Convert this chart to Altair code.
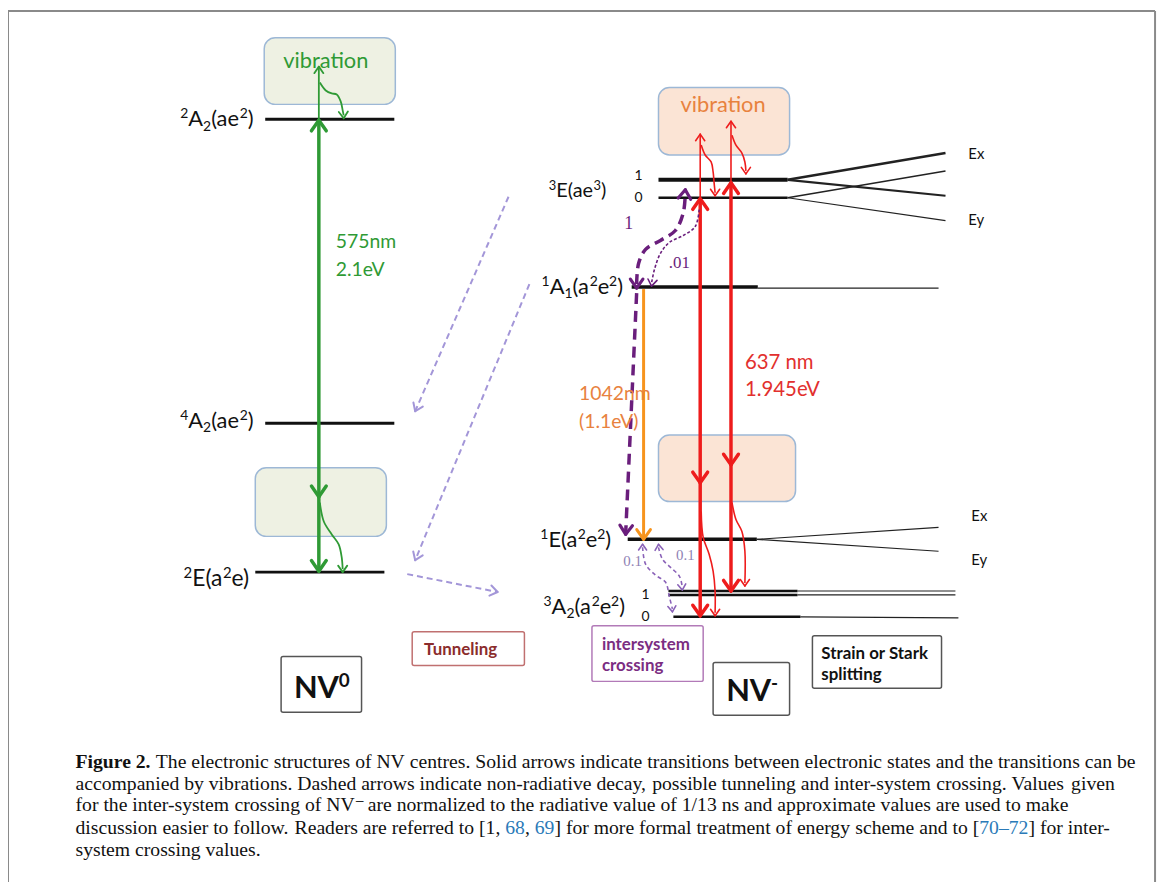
import math
import altair as alt
import pandas as pd

# ------------------------------------------------------------------ data
# energy levels: name, x-start, x-end, y (diagram pixel space)
level_names = ["2A2", "4A2", "2E", "3E_1", "3E_0", "1A1", "1E", "3A2_1a", "3A2_1b", "3A2_0"]
level_x1 = [267, 267, 257, 663, 663, 636, 632, 673, 673, 678]
level_x2 = [397, 397, 387, 793, 793, 763, 762, 803, 803, 806]
level_y = [117, 423, 573, 178, 196, 286, 540, 592, 596, 618]
level_w = [3, 3, 3, 4, 2.5, 3.5, 3.5, 2.5, 2.5, 2.5]

# strain / Stark splitting fan-out lines: x1, y1, x2, y2, width
split_lines = [
    (793, 178, 952, 151, 2.5), (793, 178, 952, 194, 2.2),
    (793, 196, 952, 169, 1.6), (793, 196, 952, 219, 1.2),
    (763, 287, 945, 287, 1.2),
    (762, 540, 945, 528, 1.2), (762, 540, 945, 552, 1.2),
    (803, 592, 962, 592, 1.2), (803, 596, 962, 596, 1.2),
    (806, 618, 965, 619, 1.2),
]

# straight solid transitions: x1, y1, x2, y2, colour key, width
solid_transitions = [
    (321, 118, 321, 572, "green", 3.5), (321, 117, 321, 64, "green", 1.8),
    (705, 197, 705, 617, "red", 3.5), (736, 181, 736, 592, "red", 3.5),
    (705, 196, 705, 132, "red", 1.6), (736, 180, 736, 119, "red", 1.6),
    (648, 288, 648, 540, "orange", 3),
]

# tunneling (light purple dashed) arrows: x1, y1, x2, y2
tunnel_arrows = [(512, 195, 418, 411), (533, 283, 418, 561), (410, 575, 501, 593)]
# thick intersystem-crossing dashed straight
isc_thick_straight = [(641, 292, 630, 533)]

# curved paths (points), by style
curve_isc_thick = [[(641, 283), (643, 262), (650, 248), (665, 239), (680, 229), (688, 211), (690, 191)]]
curve_isc_thin = [[(704, 208), (700, 225), (688, 234), (674, 241), (665, 252), (659, 268), (656, 282)]]
curve_isc_small = [
    [(647, 548), (650, 565), (660, 576), (670, 583), (674, 598), (677, 610)],
    [(663, 548), (667, 560), (676, 569), (684, 577), (687, 588)],
]
curve_green = [
    [(322, 80), (328, 88), (334, 91), (339, 92), (343, 99), (345, 108), (346, 113)],
    [(322, 503), (326, 522), (334, 535), (341, 545), (344, 558), (345, 570)],
]
curve_red = [
    [(706, 143), (710, 153), (716, 160), (718, 170), (719, 181), (720, 191)],
    [(737, 133), (741, 143), (747, 151), (750, 160), (751, 169)],
    [(706, 512), (708, 538), (714, 555), (718, 572), (720, 592), (720, 614)],
    [(737, 503), (741, 520), (747, 532), (750, 552), (750, 584)],
]

# arrow heads: tip x, tip y, direction dx, dy, length, colour key, width
arrow_heads = [
    (321, 118, 0, -1, 13, "green", 3.5), (321, 497, 0, 1, 13, "green", 3.5),
    (321, 572, 0, 1, 13, "green", 3.5), (321, 64, 0, -1, 8, "green", 1.8),
    (346, 116, 0.05, 1, 8, "green", 1.8), (345, 573, 0, 1, 8, "green", 1.8),
    (705, 197, 0, -1, 13, "red", 3.5), (736, 181, 0, -1, 13, "red", 3.5),
    (705, 483, 0, 1, 13, "red", 3.5), (736, 465, 0, 1, 13, "red", 3.5),
    (705, 617, 0, 1, 13, "red", 3.5), (736, 592, 0, 1, 13, "red", 3.5),
    (705, 132, 0, -1, 8, "red", 1.6), (736, 119, 0, -1, 8, "red", 1.6),
    (720, 194, 0, 1, 8, "red", 1.6), (751, 172, 0, 1, 8, "red", 1.6),
    (720, 617, 0, 1, 8, "red", 1.6), (750, 587, 0, 1, 8, "red", 1.6),
    (648, 540, 0, 1, 12, "orange", 3),
    (690, 188, 0.1, -1, 11, "isc", 3.2), (641, 287, 0, 1, 11, "isc", 3.2),
    (630, 535, -0.05, 1, 11, "isc", 3.2),
    (656, 285, -0.15, 1, 8, "isc", 1.6),
    (647, 545, 0, -1, 7, "isc2", 1.6), (663, 545, -0.1, -1, 7, "isc2", 1.6),
    (677, 613, 0.1, 1, 7, "isc2", 1.6), (687, 591, 0.1, 1, 7, "isc2", 1.6),
]

# boxes: x1, y1, x2, y2, style key
vib_boxes = [(266, 35, 398, 102, "vib0"), (257, 468, 389, 537, "vib0"),
             (663, 85, 795, 153, "vibm"), (663, 435, 801, 502, "vibm")]
label_boxes = [(415, 633, 528, 667, "tun"), (596, 627, 708, 683, "isc"),
               (283, 658, 364, 714, "dark"), (718, 664, 795, 717, "dark"),
               (818, 637, 948, 690, "dark")]

# state labels as pieces (text, n=normal / sup / sub): anchor x, baseline y, align, main size, small size
state_labels = [
    ([("2", "sup"), ("A", "n"), ("2", "sub"), ("(ae", "n"), ("2", "sup"), (")", "n")], 256, 124, "right", 22, 14),
    ([("4", "sup"), ("A", "n"), ("2", "sub"), ("(ae", "n"), ("2", "sup"), (")", "n")], 256, 428, "right", 22, 14),
    ([("2", "sup"), ("E(a", "n"), ("2", "sup"), ("e)", "n")], 252, 587, "right", 23, 15),
    ([("3", "sup"), ("E(ae", "n"), ("3", "sup"), (")", "n")], 611, 195, "right", 20, 13),
    ([("1", "sup"), ("A", "n"), ("1", "sub"), ("(a", "n"), ("2", "sup"), ("e", "n"), ("2", "sup"), (")", "n")], 628, 293, "right", 22, 14),
    ([("1", "sup"), ("E(a", "n"), ("2", "sup"), ("e", "n"), ("2", "sup"), (")", "n")], 616, 548, "right", 22, 14),
    ([("3", "sup"), ("A", "n"), ("2", "sub"), ("(a", "n"), ("2", "sup"), ("e", "n"), ("2", "sup"), (")", "n")], 630, 615, "right", 22, 14),
]
nv_labels = [
    ([("NV", "n"), ("0", "sup")], 324, 700, "center", 31, 19),
    ([("NV", "n"), ("-", "sup")], 757, 703, "center", 31, 19),
]

# other diagram texts: text, x, y, size, colour key, font key, weight, align
diagram_texts = [
    ("vibration", 328, 58, 22, "green", "sans", "normal", "center"),
    ("vibration", 728, 103, 22, "orange_t", "sans", "normal", "center"),
    ("575nm", 338, 241, 19.5, "green", "sans", "normal", "left"),
    ("2.1eV", 338, 269, 19.5, "green", "sans", "normal", "left"),
    ("1", 643, 174, 14, "black", "sans", "normal", "center"),
    ("0", 643, 196, 14, "black", "sans", "normal", "center"),
    ("1", 650, 596, 14, "black", "sans", "normal", "center"),
    ("0", 650, 618, 14, "black", "sans", "normal", "center"),
    ("Ex", 975, 152, 15, "black", "sans", "normal", "left"),
    ("Ey", 975, 218, 15, "black", "sans", "normal", "left"),
    ("Ex", 978, 517, 15, "black", "sans", "normal", "left"),
    ("Ey", 978, 561, 15, "black", "sans", "normal", "left"),
    ("637 nm", 750, 362, 20.5, "red_t", "sans", "normal", "left"),
    ("1.945eV", 750, 390, 20.5, "red_t", "sans", "normal", "left"),
    ("1042nm", 583, 394, 19.5, "orange_t", "sans", "normal", "left"),
    ("(1.1eV)", 583, 422, 19.5, "orange_t", "sans", "normal", "left"),
    ("1", 633, 222, 18, "isc", "serif", "normal", "center"),
    (".01", 684, 262, 17, "isc", "serif", "normal", "center"),
    ("0.1", 637, 562, 15, "isc_lbl", "serif", "normal", "center"),
    ("0.1", 690, 556, 15, "isc_lbl", "serif", "normal", "center"),
    ("Tunneling", 427, 651, 17, "tun_t", "sans", "bold", "left"),
    ("intersystem", 606, 646, 17, "isc_t", "sans", "bold", "left"),
    ("crossing", 606, 668, 17, "isc_t", "sans", "bold", "left"),
    ("Strain or Stark", 827, 655, 17, "black", "sans", "bold", "left"),
    ("splitting", 827, 677, 17, "black", "sans", "bold", "left"),
]

# caption: (centre y, words); a word is a str or a list of (text, colour, weight) pieces
caption_lines = [
    (764, [[("Figure 2.", "black", "bold")]] +
     "The electronic structures of NV centres. Solid arrows indicate transitions between electronic states and the transitions can be".split()),
    (786,
     "accompanied by vibrations. Dashed arrows indicate non-radiative decay, possible tunneling and inter-system crossing. Values given".split()),
    (808,
     "for the inter-system crossing of NV⁻ are normalized to the radiative value of 1/13 ns and approximate values are used to make".split()),
    (831,
     "discussion easier to follow. Readers are referred to [1,".split() +
     [[("68", "link", "normal"), (",", "black", "normal")],
      [("69", "link", "normal"), ("]", "black", "normal")]] +
     "for more formal treatment of energy scheme and to".split() +
     [[("[", "black", "normal"), ("70–72", "link", "normal"), ("]", "black", "normal")], "for", "inter-"]),
    (853, "system crossing values.".split()),
]

# ------------------------------------------------------------------ styles
COL = {
    "green": "#2f9a35", "red": "#ee1c1c", "orange": "#f7941d", "isc": "#6a1e7c",
    "isc2": "#8a62b8", "tunnel": "#a396d8", "black": "#111111",
    "orange_t": "#e8823e", "red_t": "#e2302e", "isc_lbl": "#8f82b4",
    "tun_t": "#8b2c2c", "isc_t": "#7b2d82", "link": "#2a7ab8",
}
BOX = {
    "vib0": ("#eef1e3", "#9db8d6"), "vibm": ("#fbe4d5", "#9db8d6"),
    "tun": ("#ffffff", "#c07070"), "isc": ("#ffffff", "#b27ab8"),
    "dark": ("#ffffff", "#555555"),
}
FONT = {"sans": "Lato, 'Noto Sans', 'DejaVu Sans', sans-serif",
        "serif": "'Liberation Serif', 'DejaVu Serif', serif"}

# approximate advance widths (em) for layout of pieces
LATO = {"A": 0.679, "E": 0.56, "(": 0.30, ")": 0.30, "a": 0.485, "e": 0.52, "-": 0.33}
LATO_B = {"N": 0.76, "V": 0.70, "-": 0.34}
TIMES = dict(zip("ABCDEFGHIJKLMNOPQRSTUVWXYZ",
                 [722, 667, 667, 722, 611, 556, 722, 722, 333, 389, 722, 611, 889, 722, 722, 556, 722, 667,
                  556, 611, 722, 722, 944, 722, 722, 611]))
TIMES.update(dict(zip("abcdefghijklmnopqrstuvwxyz",
                      [444, 500, 444, 500, 444, 333, 500, 500, 278, 278, 500, 278, 778, 500, 500, 500, 500, 333,
                       389, 278, 500, 500, 722, 500, 500, 444])))
TIMES.update({" ": 250, ",": 250, "-": 333, ".": 250, "/": 278, "[": 333, "]": 333, "(": 333, ")": 333,
              "–": 500, "⁻": 420})
TIMES.update({d: 500 for d in "0123456789"})
TIMES_B = {"F": 611, "i": 278, "g": 500, "u": 556, "r": 444, "e": 444, " ": 250, "2": 500, ".": 250}

CAP_SIZE = 19.8
CAP_LEFT = 76

# ------------------------------------------------------------------ scales
XS = alt.Scale(domain=[8, 1170], nice=False, zero=False)
YS = alt.Scale(domain=[8, 885], nice=False, zero=False, reverse=True)


def X(f):
    return alt.X(f, type="quantitative", scale=XS, axis=None)


def Y(f):
    return alt.Y(f, type="quantitative", scale=YS, axis=None)


layers = []


def rules(rows, dash=None, cap="butt"):
    df = pd.DataFrame(rows, columns=["x", "y", "x2", "y2", "c", "w"])
    kw = dict(strokeCap=cap)
    if dash:
        kw["strokeDash"] = dash
    return alt.Chart(df).mark_rule(**kw).encode(
        x=X("x"), y=Y("y"), x2=alt.X2("x2"), y2=alt.Y2("y2"),
        color=alt.Color("c:N", scale=None),
        strokeWidth=alt.StrokeWidth("w:Q", scale=None),
    )


def curves(paths, color, width, dash=None):
    rows = []
    for k, p in enumerate(paths):
        for i, (px, py) in enumerate(p):
            rows.append({"id": k, "i": i, "x": px, "y": py})
    kw = dict(color=color, strokeWidth=width, interpolate="catmull-rom", strokeCap="butt")
    if dash:
        kw["strokeDash"] = dash
    return alt.Chart(pd.DataFrame(rows)).mark_line(**kw).encode(
        x=X("x"), y=Y("y"), detail="id:N", order="i:Q")


def text_layer(rows, font, weight, align, baseline):
    return alt.Chart(pd.DataFrame(rows)).mark_text(
        font=font, fontWeight=weight, align=align, baseline=baseline).encode(
        x=X("x"), y=Y("y"), text="t:N", size=alt.Size("s:Q", scale=None),
        color=alt.Color("c:N", scale=None))


# boxes
for keyset, radius in ((vib_boxes, 11), (label_boxes, 2)):
    rows = [{"x": a, "y": b, "x2": c, "y2": d, "f": BOX[k][0], "s": BOX[k][1]} for a, b, c, d, k in keyset]
    layers.append(alt.Chart(pd.DataFrame(rows)).mark_rect(cornerRadius=radius, strokeWidth=1.5).encode(
        x=X("x"), y=Y("y"), x2=alt.X2("x2"), y2=alt.Y2("y2"),
        fill=alt.Fill("f:N", scale=None), stroke=alt.Stroke("s:N", scale=None)))

# frame
layers.append(rules([(8, 8, 8, 885, "#8a8a8a", 2), (8, 8, 1163, 8, "#8a8a8a", 2),
                     (1163, 8, 1163, 885, "#8a8a8a", 2)]))

# levels and splittings
layers.append(rules([(a, y, b, y, "#111111", w) for a, b, y, w in zip(level_x1, level_x2, level_y, level_w)]))
layers.append(rules([(a, b, c, d, "#222222", w) for a, b, c, d, w in split_lines]))

# transitions
layers.append(rules([(a, b, c, d, COL[k], w) for a, b, c, d, k, w in solid_transitions]))
layers.append(rules([(a, b, c, d, COL["tunnel"], 2) for a, b, c, d in tunnel_arrows], dash=[6, 4]))
layers.append(rules([(a, b, c, d, COL["isc"], 3.5) for a, b, c, d in isc_thick_straight], dash=[11, 7]))

layers.append(curves(curve_isc_thick, COL["isc"], 3.5, [10, 6]))
layers.append(curves(curve_isc_thin, COL["isc"], 1.6, [3, 2]))
layers.append(curves(curve_isc_small, COL["isc2"], 1.6, [4, 3]))
layers.append(curves(curve_green, COL["green"], 1.8))
layers.append(curves(curve_red, COL["red"], 1.6))

# arrow heads (chevrons)
head_rows = []
all_heads = list(arrow_heads)
for a, b, c, d in tunnel_arrows:
    all_heads.append((c, d, c - a, d - b, 9, "tunnel", 2))
for tx, ty, dx, dy, L, k, w in all_heads:
    ang = math.atan2(dy, dx)
    for s in (1, -1):
        t = ang + math.pi - s * math.radians(35)
        head_rows.append((tx, ty, tx + L * math.cos(t), ty + L * math.sin(t), COL[k], w))
layers.append(rules(head_rows, cap="round"))


# state labels with super/subscripts
def piece_rows(pieces, ax, by, align, main, small, table):
    ws = []
    for txt, kind in pieces:
        sz = main if kind == "n" else small
        ws.append(sum(table.get(ch, 0.58) for ch in txt) * sz)
    total = sum(ws)
    start = ax - total if align == "right" else (ax - total / 2 if align == "center" else ax)
    rows, cx = [], start
    for (txt, kind), w in zip(pieces, ws):
        sz = main if kind == "n" else small
        off = {"n": 0, "sup": -0.36 * main, "sub": 0.2 * main}[kind]
        rows.append({"t": txt, "x": cx, "y": by + off, "s": sz, "c": COL["black"]})
        cx += w
    return rows


lab_rows = []
for pieces, ax, by, al, m, sm in state_labels:
    lab_rows += piece_rows(pieces, ax, by, al, m, sm, LATO)
layers.append(text_layer(lab_rows, FONT["sans"], "normal", "left", "alphabetic"))
nv_rows = []
for pieces, ax, by, al, m, sm in nv_labels:
    nv_rows += piece_rows(pieces, ax, by, al, m, sm, LATO_B)
layers.append(text_layer(nv_rows, FONT["sans"], "bold", "left", "alphabetic"))

# other texts
groups = {}
for t, x, y, s, c, f, wt, al in diagram_texts:
    groups.setdefault((f, wt, al), []).append({"t": t, "x": x, "y": y, "s": s, "c": COL[c]})
for (f, wt, al), rows in groups.items():
    layers.append(text_layer(rows, FONT[f], wt, al, "middle"))


# caption, laid out word by word with natural spacing
def piece_w(txt, weight):
    tab = TIMES_B if weight == "bold" else TIMES
    return sum(tab.get(ch, 500) for ch in txt) * CAP_SIZE / 1000.0


cap_rows = []
gap = TIMES[" "] * CAP_SIZE / 1000.0
for cy, words in caption_lines:
    words = [[(w, "black", "normal")] if isinstance(w, str) else w for w in words]
    cx = CAP_LEFT
    for w in words:
        px = cx
        for t, c, wt in w:
            cap_rows.append({"t": t, "x": px, "y": cy, "s": CAP_SIZE, "c": COL[c], "wt": wt})
            px += piece_w(t, wt)
        cx = px + gap
cap_df = pd.DataFrame(cap_rows)
for wt in ("normal", "bold"):
    sub = cap_df[cap_df["wt"] == wt].drop(columns="wt").to_dict("records")
    layers.append(text_layer(sub, FONT["serif"], wt, "left", "middle"))

chart = alt.layer(*layers).properties(
    width=1162, height=877, padding=0, autosize=alt.AutoSizeParams(type="none"),
    background="white",
).configure_view(stroke=None)

chart.save("out.html", embed_options={"renderer": "svg", "actions": False})
